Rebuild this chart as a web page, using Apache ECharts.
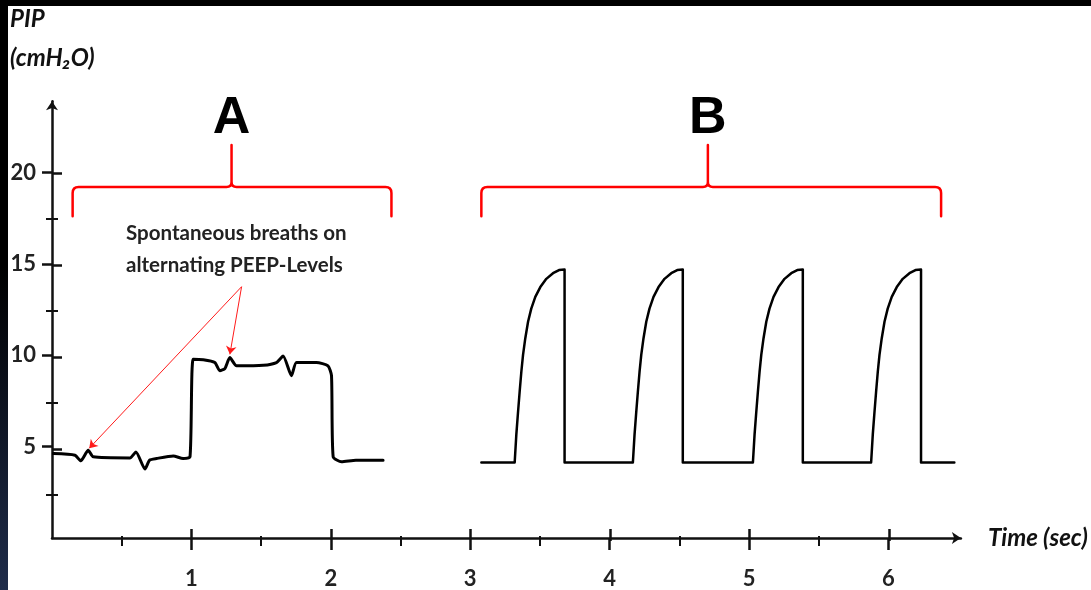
<!DOCTYPE html>
<html>
<head>
<meta charset="utf-8">
<title>PIP - APRV vs PCV</title>
<script src="https://cdn.jsdelivr.net/npm/echarts@6/dist/echarts.min.js"></script>
<style>
  html, body { margin: 0; padding: 0; }
  body {
    width: 1091px; height: 590px; overflow: hidden; position: relative;
    background: linear-gradient(180deg, #000 0%, #000 45%, #1f2c4a 100%);
  }
  #paper { position: absolute; left: 8px; top: 6px; right: 0; bottom: 0; background: #fff; }
  #main { position: absolute; left: 0; top: 0; width: 1091px; height: 590px; }
</style>
</head>
<body>
<div id="paper"></div>
<div id="main"></div>
<script>
// trace A: spontaneous breaths on two alternating PEEP levels (time in s, PIP in cmH2O)
const timeA = [0.01, 0.165, 0.206, 0.26, 0.296, 0.559, 0.602, 0.667, 0.70, 0.75, 0.87, 0.94, 0.99,
  1.013, 1.085, 1.168, 1.204, 1.24, 1.276, 1.324, 1.515, 1.61, 1.658, 1.718, 1.754, 1.897, 1.98, 2.005,
  2.017, 2.077, 2.18, 2.375]
const pipA = [4.62, 4.53, 4.22, 4.8, 4.44, 4.38, 4.71, 3.77, 4.26, 4.35, 4.49, 4.35, 4.44,
  9.78, 9.75, 9.6, 9.15, 9.27, 9.87, 9.42, 9.45, 9.6, 9.96, 8.88, 9.6, 9.6, 9.42, 8.88,
  4.44, 4.17, 4.26, 4.26]

// trace B: four mandatory pressure breaths
const timeB = [3.08,
  3.319, 3.331, 3.343, 3.355, 3.367, 3.379, 3.395, 3.415, 3.438, 3.467, 3.503, 3.546, 3.594, 3.637, 3.677, 3.677,
  4.167, 4.179, 4.191, 4.203, 4.215, 4.227, 4.243, 4.263, 4.286, 4.315, 4.351, 4.394, 4.442, 4.485, 4.525, 4.525,
  5.028, 5.040, 5.052, 5.064, 5.076, 5.088, 5.104, 5.124, 5.147, 5.176, 5.212, 5.255, 5.303, 5.346, 5.386, 5.386,
  5.876, 5.888, 5.900, 5.912, 5.924, 5.936, 5.952, 5.972, 5.995, 6.024, 6.060, 6.103, 6.151, 6.194, 6.234, 6.234,
  6.473]
const pipB = [4.13,
  4.13, 5.67, 6.88, 8.03, 9.11, 10.02, 10.92, 11.83, 12.55, 13.19, 13.73, 14.18, 14.49, 14.66, 14.69, 4.13,
  4.13, 5.67, 6.88, 8.03, 9.11, 10.02, 10.92, 11.83, 12.55, 13.19, 13.73, 14.18, 14.49, 14.66, 14.69, 4.13,
  4.13, 5.67, 6.88, 8.03, 9.11, 10.02, 10.92, 11.83, 12.55, 13.19, 13.73, 14.18, 14.49, 14.66, 14.69, 4.13,
  4.13, 5.67, 6.88, 8.03, 9.11, 10.02, 10.92, 11.83, 12.55, 13.19, 13.73, 14.18, 14.49, 14.66, 14.69, 4.13,
  4.13]

// axis ticks
const xMajorTicks = [1, 2, 3, 4, 5, 6]
const xMinorTicks = [0.5, 1.5, 2.5, 3.5, 4.5, 5.5]
const yMajorTicks = [5, 10, 15, 20]
const yMinorTicks = [2.5, 7.5, 12.5, 17.5]

// brackets over the two modes (time range + centre)
const bracketLabels = ['A', 'B']
const bracketStart = [0.148, 3.08]
const bracketEnd = [2.435, 6.378]
const bracketTip = [1.288, 4.705]

// annotation arrows: from the note to the spontaneous breaths
const arrowFrom = [1.36, 13.75]
const arrowTo = [[0.267, 4.91], [1.276, 10.05]]

const xMax = 6.52
const yMax = 23.9
const ink = '#111'
const font = 'Lato'

// y levels of the bracket drawing (cmH2O)
const BR_FOOT = 17.6
const BR_BAR = 19.2
const BR_TIP = 21.5
const BR_LABEL = 22.95

const gridBox = { left: 52, right: 129.5, top: 101.2, bottom: 49 }

function tickAxis(gridIndex, min, max, ticks, len, inside, width) {
  return {
    gridIndex: gridIndex,
    type: 'value',
    min: min,
    max: max,
    axisLine: { show: false, onZero: false },
    axisTick: { show: true, inside: inside, length: len, customValues: ticks, lineStyle: { color: ink, width: width } },
    axisLabel: { show: false },
    splitLine: { show: false }
  }
}

function renderBracket(params, api) {
  const l = api.coord([api.value(0), BR_FOOT])
  const r = api.coord([api.value(1), BR_FOOT])
  const tip = api.coord([api.value(2), BR_TIP])
  const barY = api.coord([api.value(2), BR_BAR])[1]
  const lab = api.coord([api.value(2), BR_LABEL])
  const re = 6 // end corners
  const rc = 5 // centre cusp
  const d = [
    'M', l[0], l[1],
    'L', l[0], barY + re,
    'Q', l[0], barY, l[0] + re, barY,
    'L', tip[0] - rc, barY,
    'Q', tip[0], barY, tip[0], barY - rc,
    'L', tip[0], tip[1],
    'M', tip[0], barY - rc,
    'Q', tip[0], barY, tip[0] + rc, barY,
    'L', r[0] - re, barY,
    'Q', r[0], barY, r[0], barY + re,
    'L', r[0], r[1]
  ].join(' ')
  return {
    type: 'group',
    children: [
      {
        type: 'path',
        shape: { pathData: d },
        style: { stroke: '#ff0000', fill: null, lineWidth: 2.5, lineJoin: 'round', lineCap: 'round' }
      },
      {
        type: 'text',
        style: {
          text: bracketLabels[params.dataIndex],
          x: lab[0],
          y: lab[1],
          align: 'center',
          verticalAlign: 'middle',
          font: 'bold 52px "Liberation Sans"',
          fill: '#000'
        }
      }
    ]
  }
}

const chart = echarts.init(document.getElementById('main'), null, { renderer: 'canvas' })

chart.setOption({
  backgroundColor: 'transparent',
  animation: false,
  title: {
    text: 'PIP\n(cmH₂O)',
    left: 10,
    top: 0,
    padding: 0,
    textStyle: {
      fontFamily: font,
      fontStyle: 'italic',
      fontWeight: 'bold',
      fontSize: 24,
      lineHeight: 39,
      color: ink
    }
  },
  grid: [0, 1, 2, 3].map(function () {
    return Object.assign({ containLabel: false }, gridBox)
  }),
  xAxis: [
    {
      gridIndex: 0,
      type: 'value',
      min: 0,
      max: xMax,
      name: 'Time (sec)',
      nameLocation: 'end',
      nameGap: 27,
      nameTextStyle: { fontFamily: font, fontStyle: 'italic', fontWeight: 'bold', fontSize: 24, color: ink },
      axisLine: {
        show: true, onZero: false,
        symbol: ['none', 'arrow'], symbolSize: [9, 9],
        lineStyle: { color: ink, width: 2.5 }
      },
      axisTick: { show: true, length: 12, customValues: xMajorTicks, lineStyle: { color: ink, width: 2.5 } },
      axisLabel: { customValues: xMajorTicks, margin: 30, color: '#222', fontFamily: font, fontWeight: 'bold', fontSize: 22 },
      splitLine: { show: false }
    },
    tickAxis(1, 0, xMax, xMajorTicks, 12, true, 2.5),
    tickAxis(2, 0, xMax, xMinorTicks, 5, false, 2),
    tickAxis(3, 0, xMax, xMinorTicks, 5, true, 2)
  ],
  yAxis: [
    {
      gridIndex: 0,
      type: 'value',
      min: 0,
      max: yMax,
      axisLine: {
        show: true, onZero: false,
        symbol: ['none', 'arrow'], symbolSize: [9, 9],
        lineStyle: { color: ink, width: 2.5 }
      },
      axisTick: { show: true, length: 10, customValues: yMajorTicks, lineStyle: { color: ink, width: 2.5 } },
      axisLabel: { customValues: yMajorTicks, margin: 16, color: '#222', fontFamily: font, fontWeight: 'bold', fontSize: 22 },
      splitLine: { show: false }
    },
    tickAxis(1, 0, yMax, yMajorTicks, 10, true, 2.5),
    tickAxis(2, 0, yMax, yMinorTicks, 6, false, 2),
    tickAxis(3, 0, yMax, yMinorTicks, 6, true, 2)
  ],
  graphic: [
    {
      type: 'text',
      left: 126,
      top: 217,
      silent: true,
      style: {
        text: 'Spontaneous breaths on\nalternating PEEP-Levels',
        font: 'bold 20.5px Lato',
        lineHeight: 32,
        fill: '#222'
      }
    }
  ],
  series: [
    {
      name: 'A',
      type: 'line',
      xAxisIndex: 0,
      yAxisIndex: 0,
      data: timeA.map(function (t, i) { return [t, pipA[i]] }),
      symbol: 'none',
      smooth: 0.2,
      lineStyle: { color: '#000', width: 3, join: 'round', cap: 'round' },
      silent: true,
      markLine: {
        silent: true,
        symbol: ['none', 'arrow'],
        symbolSize: 8,
        label: { show: false },
        lineStyle: { color: '#ff1a1a', width: 1, type: 'solid' },
        data: arrowTo.map(function (p) { return [{ coord: arrowFrom }, { coord: p }] })
      }
    },
    {
      name: 'B',
      type: 'line',
      xAxisIndex: 0,
      yAxisIndex: 0,
      data: timeB.map(function (t, i) { return [t, pipB[i]] }),
      symbol: 'none',
      lineStyle: { color: '#000', width: 2.5, join: 'round', cap: 'round' },
      silent: true
    },
    {
      name: 'brackets',
      type: 'custom',
      xAxisIndex: 0,
      yAxisIndex: 0,
      clip: false,
      silent: true,
      renderItem: renderBracket,
      encode: { x: [0, 1, 2] },
      data: bracketStart.map(function (s, i) { return [s, bracketEnd[i], bracketTip[i]] })
    }
  ]
})
</script>
</body>
</html>
